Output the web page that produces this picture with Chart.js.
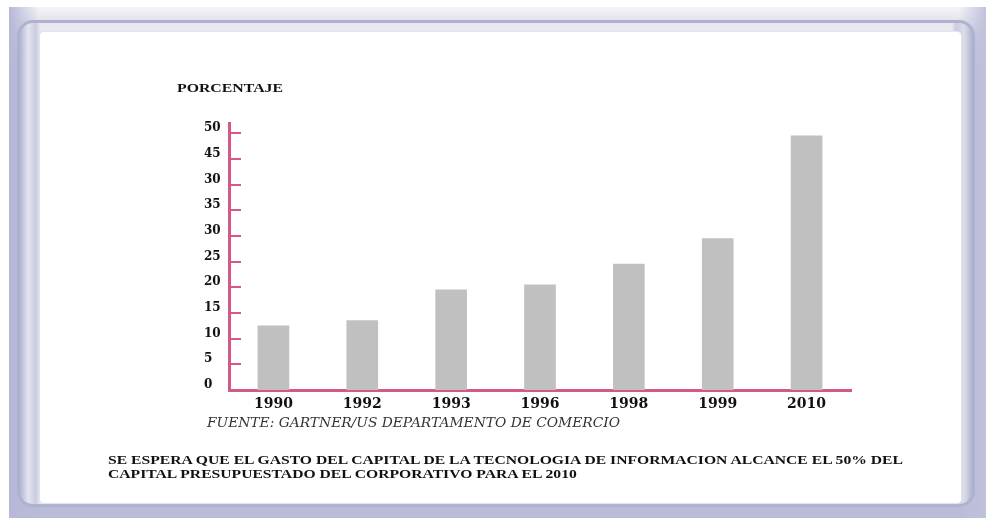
<!DOCTYPE html>
<html>
<head>
<meta charset="utf-8">
<script src="https://cdn.jsdelivr.net/npm/chart.js@4/dist/chart.umd.min.js"></script>
<style>
  html, body { margin: 0; padding: 0; background: #ffffff; }
  #wrap { position: relative; width: 986px; height: 518px; overflow: hidden; background: #ffffff; }
  #outer { position: absolute; left: 9px; top: 7px; width: 977px; height: 511px;
    background: linear-gradient(to bottom, #f4f4f8 0px, #e8e8f0 10px, #c8cae0 28px, #b9bbd9 60px, #b9bbd9 100%); }
  #outerSide { position: absolute; left: 9px; top: 7px; width: 977px; height: 511px;
    background: linear-gradient(to right, #b6b8d7 0px, rgba(185,187,217,0) 30px, rgba(185,187,217,0) 950px, #c0c2dc 977px); }
  #frame { position: absolute; left: 17px; top: 20px; width: 958px; height: 487px; border-radius: 16px;
    background: #afb2cf; }
  #frame2 { position: absolute; left: 20px; top: 23px; width: 952px; height: 481px; border-radius: 13px;
    background: linear-gradient(to right, #b2b5d2 0px, #e3e4ee 8px, #c9cbe0 16px, #e8e8f0 20px, #e8e8f0 932px, #c9cbe0 936px, #dcdde9 944px, #b2b5d2 952px); }
  #inner { position: absolute; left: 40px; top: 32px; width: 921px; height: 471px; border-radius: 4px; background: #ffffff;
    box-shadow: 0 0 0 1px #e2e3ec; }
  canvas { position: absolute; left: 0; top: 0; }
  .txt { position: absolute; white-space: nowrap; color: #111; transform-origin: 0 0; }
  #ylab { left: 177px; top: 81px; font: bold 12px "Liberation Serif", serif; }
  #src { left: 207px; top: 415px; font: italic 12.5px "DejaVu Serif", serif; color: #333; }
  #note { left: 108px; top: 453px; font: bold 13.5px "Liberation Serif", serif; line-height: 14px; }
</style>
</head>
<body>
<div id="wrap">
  <div id="outer"></div>
  <div id="outerSide"></div>
  <div id="frame"></div>
  <div id="frame2"></div>
  <div id="inner"></div>
  <canvas id="c" width="986" height="518"></canvas>
  <div class="txt" id="ylab">PORCENTAJE</div>
  <div class="txt" id="src">FUENTE: GARTNER/US DEPARTAMENTO DE COMERCIO</div>
  <div class="txt" id="note"><span id="noteL1">SE ESPERA QUE EL GASTO DEL CAPITAL DE LA TECNOLOGIA DE INFORMACION ALCANCE EL 50% DEL</span><br>CAPITAL PRESUPUESTADO DEL CORPORATIVO PARA EL 2010</div>
</div>
<script>
// ---- data ----
const years = ["1990", "1992", "1993", "1996", "1998", "1999", "2010"];
const percentages = [12.5, 13.5, 19.5, 20.5, 24.5, 29.5, 49.5];
const tickValues = [0, 5, 10, 15, 20, 25, 30, 35, 40, 45, 50];
const tickLabels = ["0", "5", "10", "15", "20", "25", "30", "35", "30", "45", "50"];

const PINK = "#d5588a";

// stretch HTML texts horizontally to the widths seen in the reference
function fitWidth(el, measureEl, target) {
  const w = measureEl.getBoundingClientRect().width;
  if (w > 0) el.style.transform = "scaleX(" + (target / w) + ")";
}
fitWidth(document.getElementById("ylab"), document.getElementById("ylab"), 106);
fitWidth(document.getElementById("src"), document.getElementById("src"), 413);
fitWidth(document.getElementById("note"), document.getElementById("noteL1"), 795);

const innerTicks = {
  id: "innerTicks",
  afterDraw(chart) {
    const ctx = chart.ctx;
    const y = chart.scales.y;
    const left = chart.chartArea.left;
    ctx.save();
    ctx.strokeStyle = PINK;
    ctx.lineWidth = 2;
    tickValues.forEach(v => {
      if (v === 0) return;
      const py = Math.round(y.getPixelForValue(v));
      ctx.beginPath();
      ctx.moveTo(left, py);
      ctx.lineTo(left + 12, py);
      ctx.stroke();
    });
    ctx.restore();
  }
};

new Chart(document.getElementById("c"), {
  type: "bar",
  data: {
    labels: years,
    datasets: [{
      data: percentages,
      backgroundColor: "#c0c0c0",
      borderWidth: 0,
      barThickness: 31
    }]
  },
  options: {
    responsive: false,
    animation: false,
    devicePixelRatio: 1,
    layout: { padding: { left: 204, right: 135, top: 123, bottom: 100 } },
    plugins: { legend: { display: false }, tooltip: { enabled: false } },
    scales: {
      x: {
        grid: { display: false, drawTicks: false },
        border: { display: true, color: PINK, width: 3 },
        ticks: { color: "#111", font: { family: "DejaVu Serif", weight: "bold", size: 14 }, padding: 6, maxRotation: 0 },
        afterFit(s) { s.height = 28; }
      },
      y: {
        min: 0, max: 52,
        grid: { display: false, drawTicks: false },
        border: { display: true, color: PINK, width: 3 },
        afterBuildTicks(s) { s.ticks = tickValues.map(v => ({ value: v })); },
        ticks: {
          color: "#111",
          font: { family: "DejaVu Serif", weight: "bold", size: 12 },
          crossAlign: "far",
          padding: 0,
          labelOffset: -5,
          callback: (v, i) => tickLabels[i]
        },
        afterFit(s) { s.width = 25; }
      }
    }
  },
  plugins: [innerTicks]
});
</script>
</body>
</html>
